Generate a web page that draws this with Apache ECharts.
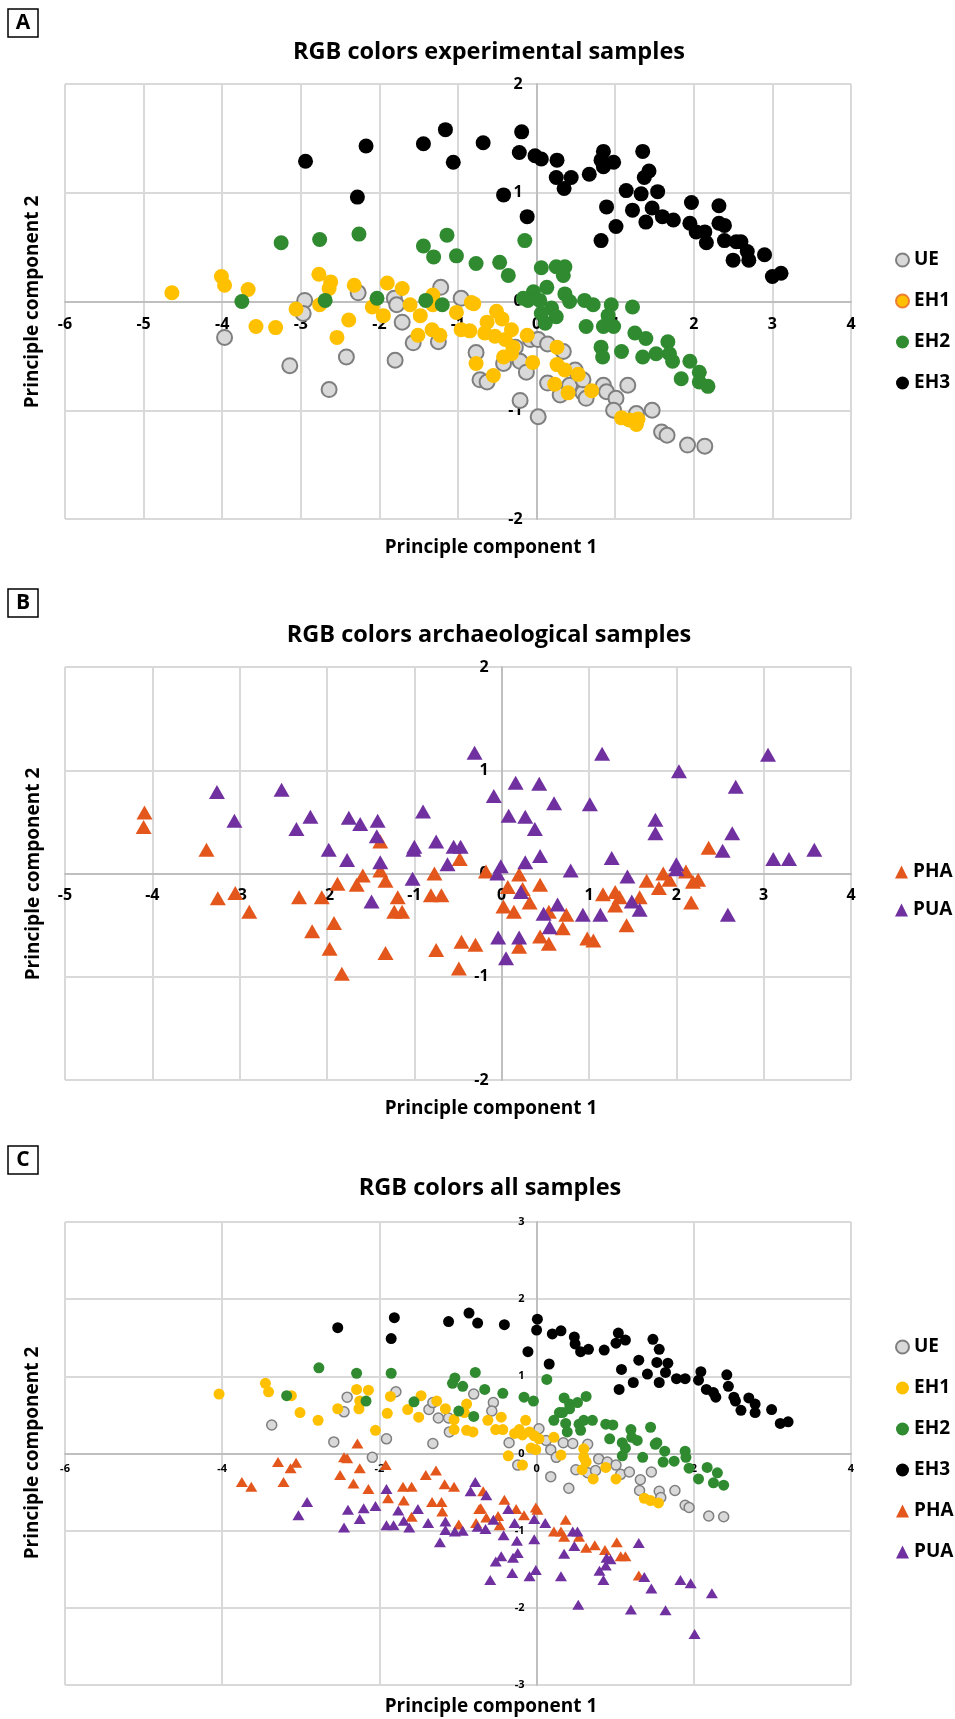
<!DOCTYPE html>
<html>
<head>
<meta charset="utf-8">
<script src="https://cdn.jsdelivr.net/npm/echarts@6/dist/echarts.min.js"></script>
<style>
html, body { margin: 0; padding: 0; background: #fff; }
#chart { width: 955px; height: 1719px; }
</style>
</head>
<body>
<div id="chart"></div>
<script>
// 数据
const namesA = ['UE', 'EH1', 'EH2', 'EH3']
const namesB = ['PHA', 'PUA']
const namesC = ['UE', 'EH1', 'EH2', 'EH3', 'PHA', 'PUA']

// axis ranges: [min, max, interval]
const xRangeA = [-6, 4, 1], yRangeA = [-2, 2, 1]
const xRangeB = [-5, 4, 1], yRangeB = [-2, 2, 1]
const xRangeC = [-6, 4, 2], yRangeC = [-3, 3, 1]

// A: experimental samples
const aUE = [[-3.97,-0.33],[-3.14,-0.59],[-2.64,-0.81],[-2.95,0.01],[-2.97,-0.11],[-2.42,-0.51],[-2.27,0.08],[-1.80,-0.54],[-1.81,0.03],[-1.78,-0.03],[-1.71,-0.19],[-1.57,-0.38],[-1.25,-0.37],[-1.22,0.13],[-0.96,0.03],[-0.77,-0.47],[-0.72,-0.72],
  [-0.63,-0.74],[-0.42,-0.57],[-0.21,-0.55],[-0.13,-0.65],[-0.21,-0.91],[0.02,-1.06],[-0.27,-0.42],[-0.08,-0.35],[0.02,-0.35],[0.14,-0.39],[0.34,-0.46],[0.14,-0.75],[0.30,-0.86],[0.42,-0.77],[0.49,-0.63],[0.59,-0.84],[0.63,-0.89],[0.59,-0.72],[0.85,-0.77],[0.89,-0.83],[1.01,-0.89],[0.98,-1.00],[1.16,-0.77],[1.27,-1.03],[1.47,-1.00],[1.59,-1.20],[1.66,-1.23],[1.92,-1.32],[2.14,-1.33]]
const aEH1 = [[-4.64,0.08],[-4.01,0.23],[-3.97,0.15],[-3.67,0.11],[-3.57,-0.23],[-3.32,-0.24],[-3.06,-0.07],[-2.77,0.25],[-2.76,-0.03],[-2.62,0.18],[-2.64,0.12],[-2.54,-0.33],[-2.39,-0.17],[-2.32,0.15],[-2.09,-0.05],[-1.95,-0.13],[-1.90,0.17],[-1.71,0.12],[-1.61,-0.03],[-1.48,-0.13],[-1.51,-0.31],[-1.33,-0.26],[-1.23,-0.31],[-1.32,0.06],[-1.32,-0.03],[-1.02,-0.10],[-0.83,-0.01],[-0.96,-0.26],[-0.85,-0.27],[-0.77,-0.57],
  [-0.80,-0.02],[-0.55,-0.68],[-0.51,-0.09],[-0.44,-0.16],[-0.63,-0.19],[-0.66,-0.29],[-0.53,-0.32],[-0.32,-0.26],[-0.40,-0.35],[-0.30,-0.42],[-0.42,-0.51],[-0.32,-0.48],[-0.12,-0.31],[-0.05,-0.56],[0.26,-0.42],[0.26,-0.58],[0.36,-0.63],[0.53,-0.67],[0.23,-0.76],[0.40,-0.84],[0.70,-0.82],[1.08,-1.07],[1.18,-1.09],[1.27,-1.13],[1.29,-1.08]]
const aEH2 = [[-3.25,0.54],[-2.76,0.57],[-2.26,0.62],[-3.75,0.00],[-2.69,0.01],[-2.03,0.03],[-1.44,0.51],[-1.31,0.41],[-1.14,0.61],[-1.02,0.42],[-1.41,0.01],[-1.20,-0.03],[-0.77,0.35],
  [-0.47,0.36],[-0.36,0.24],[-0.15,0.56],[0.06,0.31],[0.25,0.32],[0.36,0.32],[0.34,0.24],[0.13,0.13],[-0.04,0.09],[-0.11,0.01],[0.04,0.01],[0.19,-0.06],[0.25,-0.14],[0.11,-0.20],[0.36,0.07],[0.42,0.00],[0.61,0.01],[0.72,-0.03],[0.63,-0.23],[0.95,-0.03],[0.91,-0.13],[0.85,-0.23],[0.98,-0.23],[1.22,-0.05],[0.82,-0.42],[0.84,-0.51],[1.08,-0.46],[1.25,-0.29],[1.39,-0.34],[1.35,-0.51],[1.52,-0.48],[1.67,-0.37],[1.69,-0.48],[1.73,-0.55],[1.95,-0.55],[2.07,-0.65],[1.84,-0.71],[2.07,-0.74],[2.18,-0.78],[-0.17,0.03],[0.06,-0.11]]
const aEH3 = [[-2.94,1.29],[-2.17,1.43],[-2.28,0.96],[-1.44,1.45],[-1.16,1.58],[-1.06,1.28],[-0.68,1.46],
  [-0.19,1.56],[-0.22,1.37],[-0.02,1.34],[0.06,1.31],[0.26,1.30],[0.25,1.14],[0.35,1.04],[0.44,1.14],[0.67,1.17],[0.85,1.38],[0.82,1.30],[0.98,1.28],[0.85,1.24],[1.35,1.38],[1.43,1.20],[1.37,1.14],[1.14,1.02],[1.33,0.99],[1.54,1.01],[0.89,0.87],[1.22,0.84],[1.47,0.86],[1.01,0.69],[1.39,0.73],[0.82,0.56],[1.60,0.78],[1.74,0.75],[1.97,0.91],[1.95,0.72],[2.03,0.64],[2.14,0.64],[2.16,0.54],[2.32,0.88],[2.32,0.72],[2.39,0.70],[2.39,0.56],[2.54,0.55],[2.60,0.55],[2.50,0.38],[2.68,0.46],[2.70,0.38],[2.90,0.43],[3.00,0.23],[3.11,0.26],[-0.42,0.98],[-0.12,0.78]]

// B: archaeological samples
const bPHA = [[-4.09,0.59],[-4.10,0.45],[-3.38,0.23],[-3.25,-0.24],[-3.05,-0.19],[-2.89,-0.37],[-2.32,-0.23],[-2.17,-0.56],[-2.06,-0.23],[-1.92,-0.48],[-1.97,-0.73],[-1.88,-0.10],[-1.83,-0.97],[-1.66,-0.11],[-1.59,-0.02],[-1.39,0.31],[-1.39,0.03],[-1.33,-0.07],[-1.33,-0.77],[-1.19,-0.23],[-1.23,-0.37],[-1.14,-0.37],[-0.77,0.00],[-0.81,-0.21],[-0.69,-0.21],[-0.75,-0.74],[-0.49,-0.92],[-0.46,-0.66],[-0.48,0.14],[-0.30,-0.69],
  [-0.18,0.02],[0.07,-0.13],[0.20,-0.01],[0.24,-0.15],[0.44,-0.11],[0.02,-0.32],[0.14,-0.37],[0.32,-0.28],[0.54,-0.37],[0.74,-0.40],[0.70,-0.53],[0.44,-0.61],[0.54,-0.68],[0.20,-0.71],[0.98,-0.63],[1.05,-0.65],[1.16,-0.20],[1.30,-0.18],[1.35,-0.23],[1.30,-0.31],[1.58,-0.23],[1.43,-0.50],[1.66,-0.07],[1.80,-0.14],[1.85,0.00],[1.92,-0.06],[2.11,0.02],[2.19,-0.08],[2.25,-0.06],[2.17,-0.28],[2.37,0.25]]
const bPUA = [[-3.26,0.79],[-3.06,0.51],[-2.52,0.81],[-2.35,0.43],[-2.19,0.55],[-1.98,0.23],[-1.77,0.13],[-1.75,0.54],[-1.62,0.48],[-1.42,0.51],[-1.43,0.36],[-1.39,0.11],[-1.49,-0.27],[-1.02,-0.05],[-1.00,0.26],[-1.01,0.23],[-0.90,0.60],[-0.75,0.31],[-0.62,0.09],[-0.55,0.26],[-0.47,0.26],[-0.31,1.17],
  [-0.09,0.75],[0.16,0.88],[0.43,0.87],[0.60,0.68],[0.08,0.56],[0.27,0.55],[0.38,0.43],[1.01,0.67],[1.15,1.16],[2.03,0.99],[3.05,1.15],[2.68,0.84],[1.76,0.52],[1.76,0.39],[2.64,0.39],[2.53,0.22],[0.44,0.17],[0.27,0.11],[-0.01,0.07],[-0.05,0.00],[1.26,0.15],[0.79,0.03],[1.44,-0.03],[2.00,0.09],[2.00,0.04],[3.11,0.14],[3.29,0.14],[3.58,0.23],[0.22,-0.18],[0.64,-0.30],[0.48,-0.39],[0.55,-0.52],[0.93,-0.40],[1.13,-0.40],[1.49,-0.27],[1.58,-0.35],[2.59,-0.40],[-0.04,-0.62],[0.20,-0.62],[0.05,-0.82]]

// C: all samples
const cUE = [[-3.37,0.37],[-2.58,0.15],[-2.41,0.73],[-2.45,0.54],[-2.09,-0.05],[-1.91,0.19],[-1.79,0.80],[-1.37,0.57],[-1.32,0.66],[-1.25,0.46],[-1.32,0.13],[-1.11,0.28],[-1.12,0.46],[-0.80,0.77],
  [-0.55,0.66],[-0.57,0.55],[-0.35,0.14],[-0.24,-0.15],[0.03,0.32],[0.12,0.17],[0.18,0.05],[0.25,-0.05],[0.34,0.14],[0.46,0.13],[0.18,-0.30],[0.41,-0.45],[0.50,-0.21],[0.65,0.12],[0.65,-0.25],[0.75,-0.22],[0.79,-0.07],[0.90,-0.11],[1.01,-0.15],[1.07,-0.27],[1.18,-0.24],[1.32,-0.34],[1.31,-0.48],[1.46,-0.24],[1.56,-0.49],[1.58,-0.57],[1.76,-0.48],[1.89,-0.67],[1.94,-0.70],[2.19,-0.81],[2.38,-0.82]]
const cEH1 = [[-4.04,0.77],[-3.45,0.91],[-3.41,0.80],[-3.12,0.75],[-3.01,0.53],[-2.78,0.43],[-2.53,0.58],[-2.29,0.83],[-2.14,0.82],[-2.25,0.68],[-2.26,0.58],[-2.05,0.30],[-1.90,0.52],[-1.86,0.74],[-1.64,0.57],[-1.50,0.47],[-1.47,0.75],[-1.27,0.68],[-1.16,0.58],[-1.05,0.44],[-1.05,0.31],[-0.89,0.64],[-0.92,0.53],[-0.89,0.30],[-0.81,0.28],
  [-0.62,0.43],[-0.45,0.47],[-0.52,0.31],[-0.43,0.31],[-0.28,0.26],[-0.22,0.31],[-0.14,0.43],[-0.18,0.24],[-0.09,0.28],[-0.03,0.23],[0.03,0.19],[-0.07,0.07],[-0.01,0.05],[-0.36,-0.03],[-0.18,-0.15],[0.22,0.21],[0.31,-0.02],[0.60,0.06],[0.60,-0.05],[0.63,-0.11],[0.58,-0.21],[0.72,-0.33],[0.88,-0.18],[1.01,-0.33],[1.37,-0.58],[1.45,-0.61],[1.55,-0.64]]
const cEH2 = [[-2.77,1.11],[-2.29,1.04],[-1.85,1.04],[-3.18,0.75],[-2.17,0.68],[-1.56,0.67],[-1.04,0.98],[-1.07,0.91],[-0.94,0.87],[-0.99,0.55],[-0.80,0.48],[-0.78,1.05],
  [-0.66,0.83],[-0.43,0.78],[-0.16,0.73],[-0.04,0.68],[0.13,0.96],[0.35,0.72],[0.42,0.64],[0.52,0.66],[0.63,0.74],[0.29,0.53],[0.22,0.43],[0.37,0.39],[0.33,0.53],[0.42,0.58],[0.54,0.38],[0.60,0.43],[0.71,0.43],[0.56,0.30],[0.39,0.28],[0.88,0.38],[0.97,0.37],[0.93,0.19],[1.20,0.31],[1.21,0.21],[1.09,0.14],[1.13,0.07],[1.09,-0.03],[1.28,0.17],[1.35,-0.05],[1.45,0.34],[1.51,0.12],[1.53,0.14],[1.63,0.03],[1.61,-0.11],[1.75,-0.10],[1.89,0.03],[1.90,-0.05],[1.94,-0.19],[2.06,-0.33],[2.17,-0.18],[2.30,-0.25],[2.25,-0.38],[2.38,-0.41]]
const cEH3 = [[-2.53,1.63],[-1.81,1.76],[-1.85,1.49],[-1.12,1.71],[-0.86,1.82],[-0.75,1.69],
  [-0.41,1.67],[0.01,1.74],[0.00,1.60],[-0.11,1.32],[0.16,1.16],[0.20,1.55],[0.31,1.59],[0.48,1.51],[0.49,1.42],[0.56,1.32],[0.66,1.35],[0.86,1.34],[1.04,1.56],[1.01,1.43],[1.13,1.47],[1.08,1.09],[1.05,0.83],[1.23,0.92],[1.30,1.21],[1.41,1.03],[1.56,0.92],[1.48,1.48],[1.56,1.35],[1.53,1.18],[1.67,1.17],[1.64,1.05],[1.78,0.97],[1.89,0.97],[2.09,1.06],[2.06,0.95],[2.16,0.83],[2.28,0.73],[2.25,0.79],[2.42,1.02],[2.44,0.87],[2.51,0.73],[2.53,0.68],[2.70,0.72],[2.60,0.56],[2.78,0.64],[2.78,0.53],[2.99,0.57],[3.10,0.39],[3.20,0.41]]
const cPHA = [[-3.75,-0.37],[-3.63,-0.43],[-3.29,-0.11],[-3.22,-0.37],[-3.13,-0.19],[-3.06,-0.12],[-2.50,-0.28],[-2.41,-0.06],[-2.45,-0.05],[-2.33,-0.39],[-2.28,0.13],[-2.25,-0.19],[-2.14,-0.46],[-1.92,-0.15],[-1.89,-0.58],[-1.70,-0.43],[-1.59,-0.43],[-1.69,-0.61],[-1.59,-0.82],[-1.41,-0.28],[-1.28,-0.22],[-1.17,-0.40],[-1.05,-0.43],[-1.33,-0.63],[-1.21,-0.63],[-1.20,-0.75],[-0.99,-0.92],[-0.77,-0.90],[-0.73,-0.72],
  [-0.68,-0.49],[-0.41,-0.60],[-0.71,-0.71],[-0.64,-0.83],[-0.49,-0.81],[-0.26,-0.72],[-0.16,-0.80],[-0.01,-0.70],[0.01,-0.73],[-0.47,-0.93],[0.22,-1.01],[0.31,-1.01],[0.37,-0.86],[0.35,-1.08],[0.54,-1.08],[0.63,-1.22],[0.74,-1.19],[0.87,-1.25],[1.02,-1.15],[1.07,-1.33],[1.13,-1.33],[1.30,-1.58]]
const cPUA = [[-3.03,-0.80],[-2.92,-0.63],[-2.45,-0.96],[-2.40,-0.73],[-2.25,-0.85],[-2.20,-0.71],[-2.05,-0.68],[-1.91,-0.46],[-1.91,-0.93],[-1.82,-0.93],[-1.76,-0.74],[-1.69,-0.87],[-1.62,-0.96],[-1.51,-0.72],[-1.38,-0.90],[-1.23,-1.15],[-1.16,-0.88],[-1.16,-0.99],[-1.04,-1.01],[-0.94,-1.00],[-0.84,-0.49],[-0.78,-0.37],[-0.75,-0.95],
  [-0.64,-0.54],[-0.65,-0.98],[-0.55,-0.86],[-0.42,-1.06],[-0.36,-0.72],[-0.28,-0.90],[-0.25,-1.13],[-0.03,-0.85],[0.11,-0.90],[-0.03,-1.11],[-0.52,-1.40],[-0.45,-1.33],[-0.30,-1.35],[-0.24,-1.29],[-0.31,-1.55],[-0.59,-1.64],[-0.09,-1.59],[-0.01,-1.51],[0.31,-1.59],[0.35,-1.30],[0.48,-1.20],[0.46,-1.01],[0.52,-1.01],[0.53,-1.96],[0.80,-1.52],[0.85,-1.64],[0.89,-1.35],[0.94,-1.37],[0.88,-1.45],[1.20,-2.02],[1.30,-1.16],[1.37,-1.60],[1.46,-1.75],[1.64,-2.03],[1.83,-1.64],[1.96,-1.68],[2.01,-2.34],[2.23,-1.81]]

const FONT = 'Open Sans'
const looks = {
  UE:  { symbol: 'circle',   itemStyle: { color: '#d9d9d9', borderColor: '#7f7f7f', borderWidth: 2 } },
  EH1: { symbol: 'circle',   itemStyle: { color: '#ffc000' } },
  EH2: { symbol: 'circle',   itemStyle: { color: '#2f8a30' } },
  EH3: { symbol: 'circle',   itemStyle: { color: '#000000' } },
  PHA: { symbol: 'triangle', itemStyle: { color: '#e4571c' } },
  PUA: { symbol: 'triangle', itemStyle: { color: '#7030a0' } }
}

// grid boxes, px
const grids = [
  { left: 65, top: 84, width: 786, height: 435 },
  { left: 65, top: 667, width: 786, height: 413 },
  { left: 65, top: 1222, width: 786, height: 463 }
]

// axes sit on the other axis' zero (Excel style), labels go with them
function axis(gridIndex, range, other, span, fontSize, margin) {
  const shift = span * (0 - other[0]) / (other[1] - other[0])
  return {
    type: 'value', gridIndex: gridIndex,
    min: range[0], max: range[1], interval: range[2],
    offset: -shift,
    axisLine: { onZero: false, lineStyle: { color: '#bfbfbf', width: 2 } },
    axisTick: { show: false },
    axisLabel: { fontSize: fontSize, fontWeight: 'bold', fontFamily: FONT, color: '#000', margin: margin },
    splitLine: { lineStyle: { color: '#d9d9d9', width: 2 } }
  }
}
function xAx(i, xr, yr, fs, m) {
  // x axis at the bottom, lifted up to y = 0
  return axis(i, xr, yr, grids[i].height, fs, m)
}
function yAx(i, yr, xr, fs, m) {
  // y axis at the left, pushed right to x = 0
  return axis(i, yr, xr, grids[i].width, fs, m)
}

function scatter(name, data, idx, size, bw) {
  const look = looks[name]
  const st = Object.assign({ opacity: 1 }, look.itemStyle)
  if (bw !== undefined && st.borderWidth) st.borderWidth = bw
  return {
    type: 'scatter', name: name, data: data,
    xAxisIndex: idx, yAxisIndex: idx,
    symbol: look.symbol, symbolSize: size,
    itemStyle: st
  }
}

function legend(names, top, gap, extra) {
  return {
    orient: 'vertical', left: 895, top: top, padding: 0,
    itemWidth: 13, itemHeight: 13, itemGap: gap,
    textStyle: { fontSize: 19, fontWeight: 'bold', fontFamily: FONT, color: '#000', lineHeight: 20 },
    data: names.map(n => Object.assign({ name: n, icon: looks[n].symbol }, (extra && extra[n]) || {}))
  }
}

function text(str, x, y, size, rot) {
  return {
    type: 'text', x: x, y: y, rotation: rot || 0,
    style: { text: str, fontSize: size, fontWeight: 'bold', fontFamily: FONT, fill: '#000', align: 'center', verticalAlign: 'middle' }
  }
}

function letterBox(letter, top) {
  return [
    { type: 'rect', shape: { x: 8, y: top, width: 30, height: 28 }, style: { fill: '#fff', stroke: '#000', lineWidth: 1.5 } },
    text(letter, 23, top + 14, 21)
  ]
}

const myChart = echarts.init(document.getElementById('chart'))
const options = {
  animation: false,
  backgroundColor: '#fff',
  grid: grids,
  xAxis: [
    xAx(0, xRangeA, yRangeA, 16, 15),
    xAx(1, xRangeB, yRangeB, 16, 14),
    xAx(2, xRangeC, yRangeC, 11, 10)
  ],
  yAxis: [
    yAx(0, yRangeA, xRangeA, 16, 14),
    yAx(1, yRangeB, xRangeB, 16, 13),
    yAx(2, yRangeC, xRangeC, 11, 12)
  ],
  legend: [
    legend(namesA, 250, 21, { EH1: { itemStyle: { borderColor: '#ed7d31', borderWidth: 2 } } }),
    legend(namesB, 862, 18),
    legend(namesC, 1337, 21)
  ],
  series: [
    scatter('UE', aUE, 0, 15), scatter('EH1', aEH1, 0, 15), scatter('EH2', aEH2, 0, 15), scatter('EH3', aEH3, 0, 15),
    scatter('PHA', bPHA, 1, [16, 14]), scatter('PUA', bPUA, 1, [16, 14]),
    scatter('UE', cUE, 2, 10, 1.5), scatter('EH1', cEH1, 2, 11), scatter('EH2', cEH2, 2, 11), scatter('EH3', cEH3, 2, 11),
    scatter('PHA', cPHA, 2, [12, 10]), scatter('PUA', cPUA, 2, [12, 10])
  ],
  graphic: [].concat(
    letterBox('A', 9), letterBox('B', 589), letterBox('C', 1146),
    [
      text('RGB colors experimental samples', 489, 52, 23.5),
      text('RGB colors archaeological samples', 489, 635, 23.5),
      text('RGB colors all samples', 490, 1188, 23.5),
      text('Principle component 1', 491, 548, 19),
      text('Principle component 1', 491, 1109, 19),
      text('Principle component 1', 491, 1707, 19),
      text('Principle component 2', 33, 302, 19, Math.PI / 2),
      text('Principle component 2', 34, 874, 19, Math.PI / 2),
      text('Principle component 2', 33, 1453, 19, Math.PI / 2)
    ]
  )
}
myChart.setOption(options)
window.onresize = myChart.resize
</script>
</body>
</html>
